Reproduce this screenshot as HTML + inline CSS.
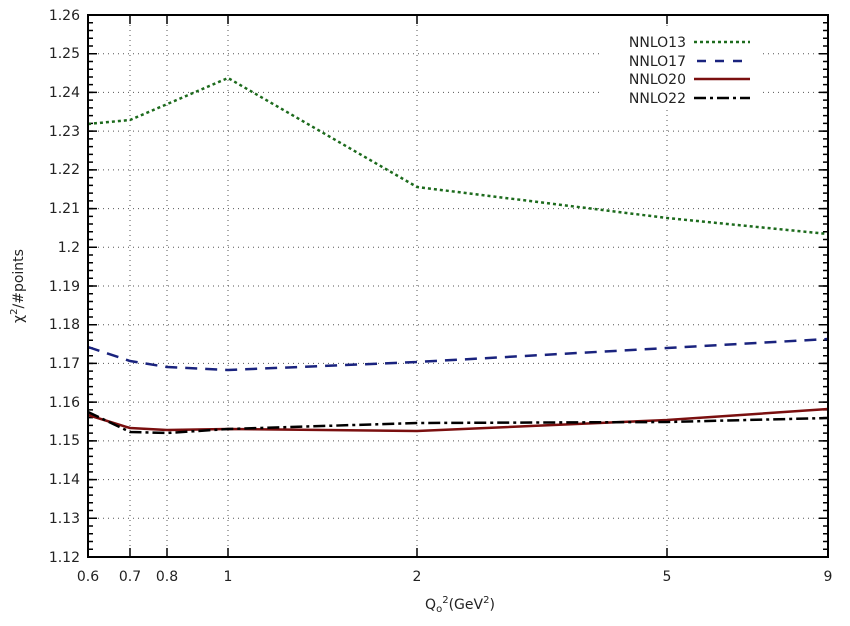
<!DOCTYPE html>
<html><head><meta charset="utf-8"><style>body{margin:0;background:#fff}svg{display:block}</style></head><body>
<svg width="850" height="626" xmlns="http://www.w3.org/2000/svg" font-family="'DejaVu Sans','Liberation Sans',sans-serif" font-size="14">
<rect width="850" height="626" fill="#fff"/>
<g stroke="#555" stroke-width="1" stroke-dasharray="1,4">
<line x1="88" x2="828" y1="53.7" y2="53.7"/><line x1="88" x2="828" y1="92.4" y2="92.4"/><line x1="88" x2="828" y1="131.1" y2="131.1"/><line x1="88" x2="828" y1="169.9" y2="169.9"/><line x1="88" x2="828" y1="208.6" y2="208.6"/><line x1="88" x2="828" y1="247.3" y2="247.3"/><line x1="88" x2="828" y1="286" y2="286"/><line x1="88" x2="828" y1="324.7" y2="324.7"/><line x1="88" x2="828" y1="363.4" y2="363.4"/><line x1="88" x2="828" y1="402.1" y2="402.1"/><line x1="88" x2="828" y1="440.9" y2="440.9"/><line x1="88" x2="828" y1="479.6" y2="479.6"/><line x1="88" x2="828" y1="518.3" y2="518.3"/>
<line x1="130" x2="130" y1="15" y2="557"/><line x1="167" x2="167" y1="15" y2="557"/><line x1="228" x2="228" y1="15" y2="557"/><line x1="417" x2="417" y1="15" y2="557"/><line x1="667" x2="667" y1="15" y2="557"/>
</g>
<rect x="600" y="28" width="160" height="78" fill="#fff"/>
<g stroke="#000">
<line x1="90.5" x2="90.5" y1="14.25" y2="558" stroke-width="5" stroke-dasharray="1.5,6.243"/>
<line x1="92.5" x2="92.5" y1="14.25" y2="558" stroke-width="9" stroke-dasharray="1.5,37.214"/>
<line x1="825.5" x2="825.5" y1="14.25" y2="558" stroke-width="5" stroke-dasharray="1.5,6.243"/>
<line x1="823.5" x2="823.5" y1="14.25" y2="558" stroke-width="9" stroke-dasharray="1.5,37.214"/>
<path stroke-width="1.5" d="M130 557v-9M167 557v-9M228 557v-9M417 557v-9M667 557v-9M130 15v9M167 15v9M228 15v9M417 15v9M667 15v9"/>
</g>
<g fill="none" stroke-width="2.5" stroke-linejoin="round">
<polyline stroke="#1d6b1d" stroke-dasharray="3,3" points="88,124 130,120 228,78 417,187 667,218 828,234"/>
<polyline stroke="#1a237e" stroke-dasharray="12,8" points="88,347 130,361 167,367 228,370 417,362 667,348 828,339"/>
<polyline stroke="#7a0f0f" points="88,415 130,428 167,430 228,429 417,431 667,420 828,409"/>
<polyline stroke="#000" stroke-dasharray="12,4,3,4" points="88,412 130,432 167,433 228,429 417,423 667,422 828,418"/>
</g>
<rect x="88" y="15" width="740" height="542" fill="none" stroke="#000" stroke-width="2"/>
<g text-anchor="end" fill="#222">
<text x="80" y="20">1.26</text><text x="80" y="58">1.25</text><text x="80" y="97">1.24</text><text x="80" y="136">1.23</text><text x="80" y="174">1.22</text><text x="80" y="213">1.21</text><text x="80" y="252">1.2</text><text x="80" y="291">1.19</text><text x="80" y="329">1.18</text><text x="80" y="368">1.17</text><text x="80" y="407">1.16</text><text x="80" y="445">1.15</text><text x="80" y="484">1.14</text><text x="80" y="523">1.13</text><text x="80" y="562">1.12</text>
</g>
<g text-anchor="middle" fill="#222">
<text x="88" y="581">0.6</text><text x="130" y="581">0.7</text><text x="167" y="581">0.8</text><text x="228" y="581">1</text><text x="417" y="581">2</text><text x="667" y="581">5</text><text x="828" y="581">9</text>
<text x="460" y="609">Q<tspan font-size="10" dy="3">o</tspan><tspan font-size="10" dy="-9">2</tspan><tspan dy="6">(GeV</tspan><tspan font-size="10" dy="-6">2</tspan><tspan dy="6">)</tspan></text>
</g>
<text transform="translate(23,286) rotate(-90)" text-anchor="middle" fill="#222">χ<tspan font-size="10" dy="-6">2</tspan><tspan dy="6">/#points</tspan></text>
<g text-anchor="end" fill="#222">
<text x="686" y="47">NNLO13</text><text x="686" y="66">NNLO17</text><text x="686" y="84">NNLO20</text><text x="686" y="103">NNLO22</text>
</g>
<g stroke-width="2.5">
<line x1="694" x2="750" y1="42" y2="42" stroke="#1d6b1d" stroke-dasharray="3,3"/>
<line x1="697" x2="750" y1="61" y2="61" stroke="#1a237e" stroke-dasharray="9,9"/>
<line x1="694" x2="750" y1="79" y2="79" stroke="#7a0f0f"/>
<line x1="694" x2="750" y1="98" y2="98" stroke="#000" stroke-dasharray="12,4,3,4"/>
</g>
</svg>
</body></html>
